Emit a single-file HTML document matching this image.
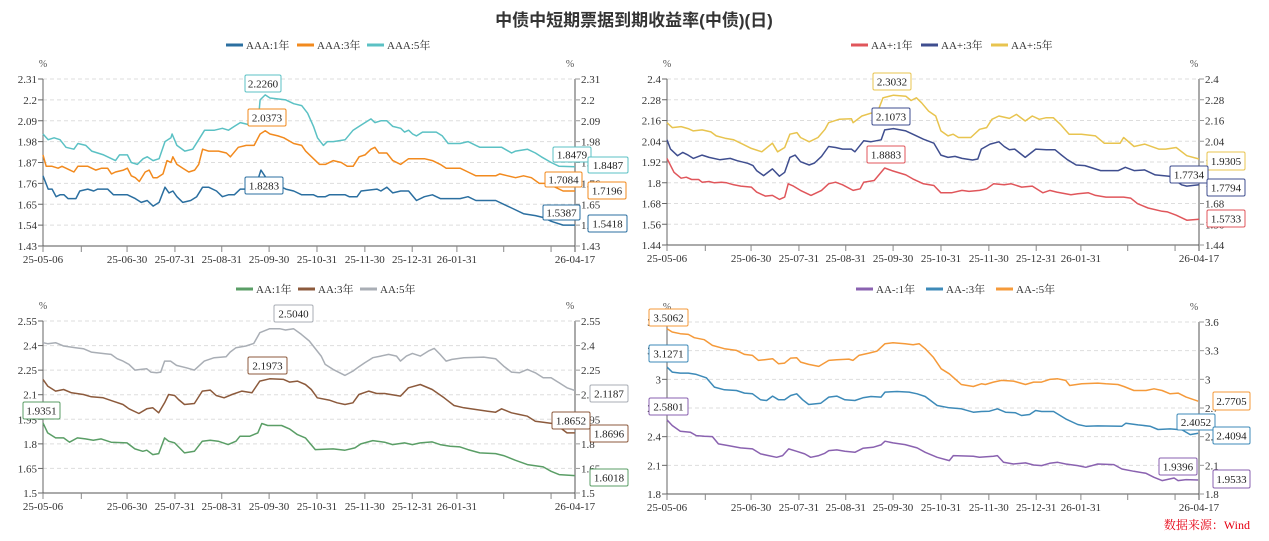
<!DOCTYPE html>
<html><head><meta charset="utf-8"><style>
html,body{margin:0;padding:0;background:#fff;}
svg{display:block;font-family:"Liberation Serif","Noto Serif CJK SC",serif;}
</style></head><body>
<svg id="s" width="1269" height="541" viewBox="0 0 1269 541" xmlns="http://www.w3.org/2000/svg">
<text x="634" y="26" text-anchor="middle" font-family="Liberation Sans,Noto Sans CJK SC,sans-serif" font-size="17" font-weight="bold" fill="#333">中债中短期票据到期收益率(中债)(日)</text>
<text x="1250" y="529" text-anchor="end" font-size="12" fill="#e60012">数据来源：Wind</text>
</svg>
<script>
const S=document.getElementById('s');const NS='http://www.w3.org/2000/svg';
function el(t,a,txt){const e=document.createElementNS(NS,t);for(const k in a)e.setAttribute(k,a[k]);if(txt!==undefined)e.textContent=txt;S.appendChild(e);return e;}
const panels=[
 {L:43,R:575,T:79,B:246,ticks:['2.31','2.2','2.09','1.98','1.87','1.76','1.65','1.54','1.43']},
 {L:667,R:1199,T:79,B:245,ticks:['2.4','2.28','2.16','2.04','1.92','1.8','1.68','1.56','1.44']},
 {L:43,R:575,T:321,B:493,ticks:['2.55','2.4','2.25','2.1','1.95','1.8','1.65','1.5']},
 {L:667,R:1199,T:322,B:494,ticks:['3.6','3.3','3','2.7','2.4','2.1','1.8']}];
const xl=['25-06-30','25-07-31','25-08-31','25-09-30','25-10-31','25-11-30','25-12-31','26-01-31'];
const xf=[.158,.248,.336,.425,.515,.605,.694,.778];
const xt=[.072,.158,.248,.336,.425,.515,.605,.694,.778,.866,.955];
panels.forEach(p=>{
 const n=p.ticks.length-1;
 p.ticks.forEach((t,i)=>{const y=p.T+(p.B-p.T)*i/n;
  if(i<n)el('line',{x1:p.L,x2:p.R,y1:y,y2:y,stroke:'#ddd','stroke-dasharray':'4,3','stroke-width':1});
  el('line',{x1:p.L-5,x2:p.L,y1:y,y2:y,stroke:'#666'});
  el('line',{x1:p.R,x2:p.R+5,y1:y,y2:y,stroke:'#999'});
  el('text',{x:p.L-6,y:y+4,'text-anchor':'end','font-size':11,fill:'#333'},t);
  el('text',{x:p.R+6,y:y+4,'font-size':11,fill:'#333'},t);});
 el('line',{x1:p.L,x2:p.L,y1:p.T,y2:p.B,stroke:'#666'});
 el('line',{x1:p.R,x2:p.R,y1:p.T,y2:p.B+6,stroke:'#aaa','stroke-width':2});
 el('line',{x1:p.L,x2:p.R,y1:p.B,y2:p.B,stroke:'#555'});
 el('text',{x:p.L,y:p.T-12,'text-anchor':'middle','font-size':10,fill:'#555'},'%');
 el('text',{x:p.R-5,y:p.T-12,'text-anchor':'middle','font-size':10,fill:'#555'},'%');
 const w=p.R-p.L;
 xt.forEach(f=>el('line',{x1:p.L+w*f,x2:p.L+w*f,y1:p.B,y2:p.B+6,stroke:'#888'}));
 el('line',{x1:p.L,x2:p.L,y1:p.B,y2:p.B+6,stroke:'#888'});
 xl.forEach((t,i)=>el('text',{x:p.L+w*xf[i],y:p.B+17,'text-anchor':'middle','font-size':11,fill:'#333'},t));
 el('text',{x:p.L,y:p.B+17,'text-anchor':'middle','font-size':11,fill:'#333'},'25-05-06');
 el('text',{x:p.R,y:p.B+17,'text-anchor':'middle','font-size':11,fill:'#333'},'26-04-17');
});
function poly(arr,mx,color){let pts=[];for(let i=0;i<arr.length;i+=2){const r=mx(arr[i],arr[i+1]);pts.push(r[0].toFixed(1)+','+r[1].toFixed(1));}
 el('polyline',{points:pts.join(' '),fill:'none',stroke:color,'stroke-width':1.5,'stroke-linejoin':'round'});}
const m1=(px,v)=>[0.62+px*0.3961,79+(2.31-v)/0.88*167];
poly([107,2.02,120,1.99,135,2.0,150,1.99,165,1.95,185,1.94,195,1.97,215,1.96,230,1.93,260,1.91,290,1.88,300,1.91,320,1.91,330,1.87,345,1.86,360,1.89,370,1.9,385,1.88,400,1.89,415,1.98,430,2.0,433,2.02,445,1.96,465,1.93,485,1.94,500,1.99,515,2.04,540,2.04,560,2.05,575,2.04,590,2.06,605,2.08,625,2.07,650,2.08,655,2.2,668,2.226,680,2.21,720,2.2,740,2.18,760,2.17,775,2.13,790,2.06,800,2.0,815,1.96,825,1.98,840,1.98,870,1.99,890,2.04,905,2.06,920,2.08,935,2.1,945,2.08,960,2.09,975,2.09,990,2.06,1010,2.05,1020,2.03,1030,2.04,1040,2.02,1050,2.01,1065,2.03,1100,2.03,1115,2.01,1130,1.97,1160,1.97,1180,1.98,1200,1.96,1210,1.95,1265,1.95,1290,1.92,1300,1.93,1330,1.94,1350,1.92,1365,1.9,1390,1.87,1410,1.85,1450,1.848],m1,'#5bc1c4');
poly([107,1.91,115,1.85,130,1.85,145,1.84,155,1.85,175,1.83,185,1.82,195,1.85,220,1.85,240,1.83,255,1.84,270,1.84,280,1.81,290,1.82,310,1.83,320,1.84,330,1.8,340,1.79,350,1.77,365,1.82,375,1.83,385,1.79,395,1.79,410,1.81,420,1.88,430,1.87,435,1.9,445,1.86,460,1.84,475,1.82,490,1.83,500,1.86,510,1.94,525,1.93,550,1.93,570,1.92,580,1.9,600,1.95,620,1.96,640,1.96,655,2.02,668,2.037,680,2.02,700,2.01,715,2.0,740,1.97,760,1.96,770,1.93,790,1.89,805,1.86,820,1.86,840,1.88,860,1.87,875,1.85,890,1.85,905,1.9,920,1.91,935,1.94,945,1.95,955,1.92,975,1.92,990,1.88,1010,1.86,1030,1.89,1070,1.89,1090,1.88,1110,1.86,1125,1.84,1160,1.84,1180,1.82,1200,1.8,1250,1.8,1260,1.81,1280,1.8,1300,1.79,1320,1.8,1340,1.79,1360,1.76,1380,1.76,1400,1.74,1420,1.72,1450,1.72],m1,'#f28a1e');
poly([107,1.8,120,1.73,130,1.73,140,1.69,150,1.7,160,1.7,170,1.68,190,1.68,200,1.72,220,1.73,235,1.72,245,1.73,270,1.73,285,1.7,320,1.7,340,1.68,355,1.66,370,1.67,385,1.64,400,1.66,415,1.74,425,1.71,435,1.72,445,1.69,460,1.66,480,1.67,495,1.69,510,1.74,525,1.74,545,1.72,560,1.69,575,1.7,590,1.7,605,1.73,620,1.73,645,1.75,657,1.83,670,1.79,680,1.76,700,1.75,720,1.73,740,1.72,760,1.7,790,1.7,800,1.69,820,1.69,830,1.7,870,1.7,880,1.69,900,1.69,910,1.72,950,1.73,960,1.72,975,1.74,990,1.71,1010,1.72,1030,1.72,1050,1.67,1070,1.69,1090,1.7,1110,1.68,1160,1.68,1180,1.69,1200,1.67,1250,1.67,1270,1.65,1290,1.63,1320,1.6,1350,1.59,1370,1.58,1390,1.56,1420,1.54,1450,1.54],m1,'#2b6fa0');
const m2=(x,y)=>[659.98+x*0.3512,69.74+y*0.3307];
poly([20,160,35,175,60,172,80,178,95,185,120,182,145,188,160,200,185,207,210,212,235,225,260,238,290,248,320,222,335,248,355,235,370,195,390,190,400,205,425,218,450,205,470,180,480,160,510,150,545,148,550,160,575,140,605,130,615,140,635,85,665,77,700,80,715,93,730,85,745,100,765,125,785,140,800,185,820,200,835,195,850,205,885,205,910,180,930,175,945,150,965,140,995,147,1015,135,1040,155,1060,140,1080,150,1100,145,1120,145,1140,165,1165,195,1200,195,1240,200,1265,222,1310,222,1320,205,1350,232,1380,225,1420,240,1440,240,1470,235,1500,260,1535,270],m2,'#e8c44f');
poly([20,212,30,240,50,260,65,250,80,258,95,268,120,258,140,265,170,272,200,268,220,275,250,283,265,290,275,305,295,320,320,300,340,322,355,310,370,265,385,258,400,278,425,288,440,282,460,262,480,232,500,235,520,240,545,240,555,248,580,215,600,218,630,212,640,182,665,178,700,185,720,195,750,210,780,222,800,258,820,265,840,262,860,268,890,273,905,270,915,240,940,225,965,218,980,232,995,242,1010,240,1040,265,1070,240,1100,242,1125,242,1140,255,1160,272,1185,288,1210,290,1255,305,1305,305,1325,295,1350,305,1380,303,1410,318,1450,322,1485,348,1500,352,1535,348],m2,'#3f4e8f');
poly([20,268,40,310,60,328,75,325,90,332,110,332,120,340,140,338,155,342,175,340,190,342,210,348,230,352,260,355,275,370,300,382,320,380,340,392,355,385,365,345,380,352,400,365,430,380,460,365,480,345,500,340,520,348,550,365,570,360,580,340,610,335,640,297,660,305,700,318,720,330,750,345,780,350,800,372,830,372,860,365,880,368,910,365,930,360,950,345,980,348,1000,345,1030,355,1060,352,1090,372,1110,365,1130,370,1170,378,1190,375,1220,372,1240,380,1270,385,1320,385,1340,388,1360,405,1390,418,1430,428,1445,430,1470,440,1500,455,1535,452],m2,'#e0565b');
const m3=(x,y)=>[19.96+x*0.3964,309.3+y*0.334];
poly([58,100,70,103,90,100,110,110,140,115,160,118,180,128,215,133,230,135,245,148,260,155,275,165,290,182,305,180,320,178,330,188,345,190,355,188,365,155,380,155,395,168,420,175,440,182,465,155,490,145,520,142,530,128,545,115,570,110,590,102,605,70,630,58,655,58,670,62,690,58,710,75,730,95,760,140,770,165,790,180,820,198,840,185,855,172,870,160,890,145,910,140,930,135,950,140,960,155,975,140,990,132,1010,140,1030,125,1045,117,1060,135,1075,155,1090,150,1120,145,1170,143,1200,148,1220,170,1240,188,1260,190,1280,180,1300,190,1320,205,1340,205,1360,220,1380,235,1400,243],m3,'#a9aeb5');
poly([58,210,70,230,90,245,110,240,130,250,160,255,180,262,210,265,235,275,260,285,275,298,300,312,320,298,335,295,350,310,365,280,375,255,390,258,400,270,415,285,440,282,460,245,480,242,495,258,515,265,535,255,560,245,585,250,605,215,630,208,665,210,680,218,700,215,720,225,735,240,750,265,780,272,800,280,820,285,840,280,855,255,880,245,900,252,920,252,935,255,960,260,980,235,1010,225,1040,240,1070,265,1095,288,1120,295,1150,300,1180,305,1200,308,1215,298,1240,310,1260,315,1280,320,1300,335,1320,338,1350,343,1380,370,1400,370],m3,'#8c5a3c');
poly([58,340,70,370,90,385,110,385,125,398,145,385,165,388,185,392,205,388,230,398,270,400,290,418,310,425,320,422,335,435,350,432,365,385,375,395,390,400,415,430,440,425,460,395,480,392,500,395,525,405,545,395,555,380,580,380,600,370,610,342,625,348,660,348,680,358,700,375,720,385,745,420,790,418,820,422,845,415,860,403,890,393,920,398,940,405,970,400,990,405,1010,400,1040,397,1060,405,1085,410,1110,412,1130,420,1160,430,1200,432,1220,438,1250,452,1280,465,1320,472,1340,485,1360,495,1400,498],m3,'#5a9e66');
const m4=(x,y)=>[640.1+x*0.4015,280.25+y*0.334];
poly([67,145,80,155,100,160,120,162,135,172,160,178,180,195,210,205,240,210,260,222,280,225,295,240,310,238,330,235,345,250,360,248,375,233,390,232,400,245,420,252,445,258,470,240,490,238,520,236,530,240,545,225,570,218,590,212,610,190,630,187,660,190,680,193,695,190,710,205,730,230,750,265,770,280,800,312,830,318,850,310,860,312,880,305,900,300,930,302,960,312,980,305,1000,305,1020,297,1040,295,1060,300,1070,315,1100,310,1140,308,1160,310,1190,312,1205,318,1230,330,1260,330,1280,325,1300,330,1320,340,1340,338,1360,350,1390,362],m4,'#f59a3a');
poly([67,260,80,275,100,278,120,278,140,282,165,292,185,320,210,328,240,330,260,338,280,340,300,358,315,360,330,347,345,358,360,358,375,345,390,340,405,358,420,372,450,368,470,350,490,347,510,358,535,360,555,352,575,348,600,350,610,335,640,333,670,335,690,340,710,348,740,375,770,382,800,385,830,395,850,393,870,392,890,385,910,395,935,397,950,405,970,402,985,390,1000,393,1030,393,1060,415,1090,432,1110,437,1140,436,1200,437,1210,428,1240,433,1270,437,1290,447,1320,445,1350,448,1370,462,1390,458],m4,'#3d8ab8');
poly([67,418,80,435,100,452,125,455,140,465,160,467,180,468,195,490,220,495,250,502,280,505,300,520,320,525,340,530,355,525,370,505,390,512,410,520,425,530,445,525,460,518,470,510,490,508,510,512,535,515,555,503,580,500,600,493,610,482,630,487,660,492,690,502,710,515,740,530,770,540,780,525,830,527,845,530,880,527,890,525,905,545,930,550,960,547,980,553,1000,555,1020,548,1040,545,1060,550,1090,555,1110,560,1140,550,1180,552,1200,565,1230,572,1260,578,1280,590,1300,600,1330,592,1340,600,1360,597,1390,598],m4,'#8a62b0');
function box(x1,y1,x2,y2,t,c){el('rect',{x:x1,y:y1,width:x2-x1,height:y2-y1,fill:'#fff',stroke:c,'stroke-width':1,rx:1.5});
 el('text',{x:(x1+x2)/2,y:(y1+y2)/2+4,'text-anchor':'middle','font-size':11,fill:'#222'},t);}
const B=[[245,75,281,92,'2.2260','#5bc1c4'],[248,109,286,126,'2.0373','#f28a1e'],[245,177,283,194,'1.8283','#2b6fa0'],
[553,147,591,162,'1.8479','#5bc1c4'],[588,157,628,173,'1.8487','#5bc1c4'],[545,172,582,187,'1.7084','#f28a1e'],[588,182,626,199,'1.7196','#f28a1e'],[543,205,580,220,'1.5387','#2b6fa0'],[588,215,627,232,'1.5418','#2b6fa0'],
[873,73,911,90,'2.3032','#e8c44f'],[872,108,910,125,'2.1073','#3f4e8f'],[867,146,905,163,'1.8883','#e0565b'],[1207,152,1245,170,'1.9305','#e8c44f'],[1170,166,1208,183,'1.7734','#3f4e8f'],[1207,179,1245,196,'1.7794','#3f4e8f'],[1207,210,1245,227,'1.5733','#e0565b'],
[274,305,313,322,'2.5040','#a9aeb5'],[248,357,287,374,'2.1973','#8c5a3c'],[23,402,60,419,'1.9351','#5a9e66'],[590,385,628,402,'2.1187','#a9aeb5'],[552,412,590,429,'1.8652','#8c5a3c'],[590,425,628,442,'1.8696','#8c5a3c'],[590,469,628,486,'1.6018','#5a9e66'],
[649,309,688,326,'3.5062','#f59a3a'],[649,345,688,362,'3.1271','#3d8ab8'],[649,398,688,415,'2.5801','#8a62b0'],[1213,392,1250,410,'2.7705','#f59a3a'],[1177,414,1215,430,'2.4052','#3d8ab8'],[1213,427,1250,444,'2.4094','#3d8ab8'],[1159,458,1197,475,'1.9396','#8a62b0'],[1213,470,1250,488,'1.9533','#8a62b0']];
B.forEach(b=>box(...b));
function leg(x,y,t,c){el('line',{x1:x,x2:x+17,y1:y,y2:y,stroke:c,'stroke-width':3});el('text',{x:x+20,y:y+4,'font-size':11,fill:'#333'},t);}
leg(226,45,'AAA:1年','#2b6fa0');leg(297,45,'AAA:3年','#f28a1e');leg(367,45,'AAA:5年','#5bc1c4');
leg(851,45,'AA+:1年','#e0565b');leg(921,45,'AA+:3年','#3f4e8f');leg(991,45,'AA+:5年','#e8c44f');
leg(236,289,'AA:1年','#5a9e66');leg(298,289,'AA:3年','#8c5a3c');leg(360,289,'AA:5年','#a9aeb5');
leg(856,289,'AA-:1年','#8a62b0');leg(926,289,'AA-:3年','#3d8ab8');leg(996,289,'AA-:5年','#f59a3a');
</script>
</body></html>
